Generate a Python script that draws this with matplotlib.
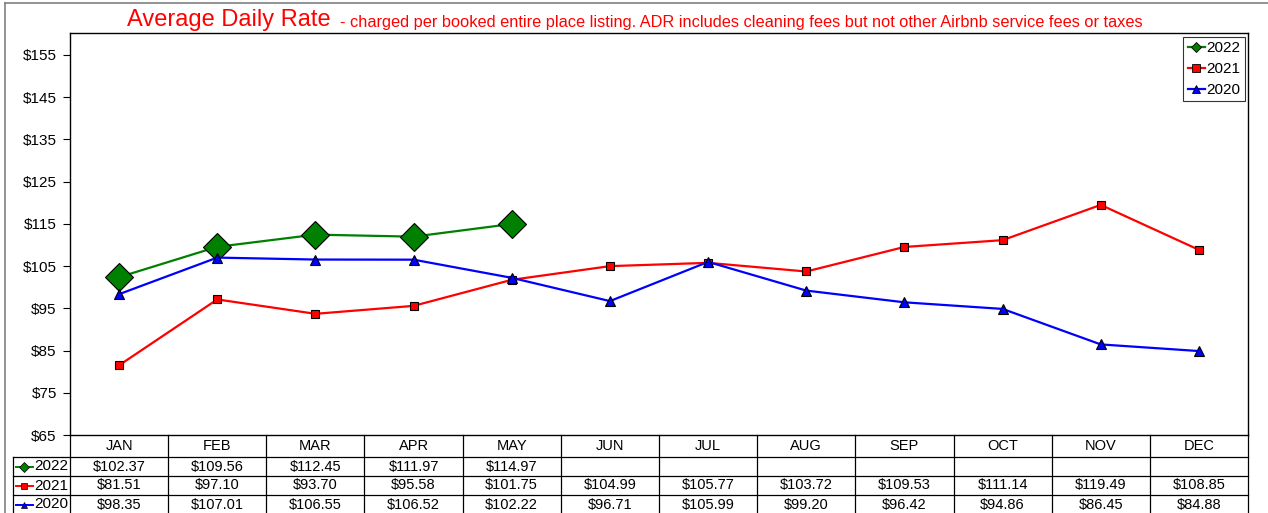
import matplotlib
matplotlib.use("Agg")
import matplotlib.pyplot as plt
from matplotlib.lines import Line2D
import numpy as np

plt.rcParams['font.family'] = ['Liberation Sans', 'DejaVu Sans']

months = ["JAN", "FEB", "MAR", "APR", "MAY", "JUN", "JUL", "AUG", "SEP", "OCT", "NOV", "DEC"]
adr_2022 = [102.37, 109.56, 112.45, 111.97, 114.97]
adr_2021 = [81.51, 97.10, 93.70, 95.58, 101.75, 104.99, 105.77, 103.72, 109.53, 111.14, 119.49, 108.85]
adr_2020 = [98.35, 107.01, 106.55, 106.52, 102.22, 96.71, 105.99, 99.20, 96.42, 94.86, 86.45, 84.88]
y_ticks = [65, 75, 85, 95, 105, 115, 125, 135, 145, 155]

W, H = 1268, 513
fig = plt.figure(figsize=(W / 100, H / 100), dpi=100)

def px(x0, y0, x1, y1):
    return [x0 / W, 1 - y1 / H, (x1 - x0) / W, (y1 - y0) / H]

# outer border
fig.add_artist(Line2D([5 / W, 1.0], [1 - 3 / H, 1 - 3 / H], color="#808080", lw=1.2))
fig.add_artist(Line2D([5 / W, 5 / W], [0, 1 - 3 / H], color="#808080", lw=1.2))

ax = fig.add_axes(px(70, 33, 1248, 435))
x = np.arange(len(months))
series = [
    ("2022", adr_2022, "#008000", "D", 14.5),
    ("2021", adr_2021, "#FF0000", "s", 5.5),
    ("2020", adr_2020, "#0000FF", "^", 6.5),
]
for label, vals, col, mk, ms in series:
    ax.plot(x[:len(vals)], vals, color=col, lw=1.6, marker=mk, ms=ms,
            mfc=col, mec="black", mew=0.8, label=label)

ax.set_xlim(-0.5, 11.5)
ax.set_ylim(65, 160.2)
ax.set_yticks(y_ticks)
ax.set_yticklabels([f"${v}" for v in y_ticks], fontsize=11)
ax.set_xticks([])
ax.tick_params(axis="y", direction="out", length=5, width=0.8, pad=4.5)
for s in ax.spines.values():
    s.set_linewidth(1.0)
    s.set_color("black")

# legend with small markers
leg_markers = [("#008000", "D"), ("#FF0000", "s"), ("#0000FF", "^")]
handles = [Line2D([0], [0], color=c, lw=1.6, marker=m, ms=5.5, mfc=c, mec="black", mew=0.6)
           for c, m in leg_markers]
leg = ax.legend(handles, [s[0] for s in series], loc="upper right", bbox_to_anchor=(0.9985, 0.995),
                fontsize=11, frameon=True, fancybox=False, handlelength=1.1, handletextpad=0.1,
                borderpad=0.3, labelspacing=0.45, borderaxespad=0.1)
leg.get_frame().set_edgecolor("black")
leg.get_frame().set_linewidth(0.8)

# title
fig.text(127 / W, 1 - 20 / H, "Average Daily Rate", color="red", fontsize=17, va="center", ha="left")
fig.text(340 / W, 1 - 22 / H,
         "- charged per booked entire place listing. ADR includes cleaning fees but not other Airbnb service fees or taxes",
         color="red", fontsize=11.8, va="center", ha="left")

# data table
tax = fig.add_axes(px(70, 435, 1248, 514))
tax.set_xlim(-0.5, 11.5)
tax.set_ylim(79, 0)
tax.axis("off")
rows = [0, 22, 41, 60, 79]
lab_left = -0.5 - 57 / (1178 / 12)
kw = dict(color="black", lw=0.9, clip_on=False)
for yb in rows[1:]:
    tax.plot([lab_left, 11.5], [yb, yb], **kw)
tax.plot([lab_left, lab_left], [22, 79], **kw)
for k in range(13):
    tax.plot([-0.5 + k, -0.5 + k], [0, 79], **kw)
for i, m in enumerate(months):
    tax.text(i, 11, m, ha="center", va="center", fontsize=10.5)
for r, (label, vals, col, mk, _) in enumerate(series):
    yc = (rows[r + 1] + rows[r + 2]) / 2
    for i, v in enumerate(vals):
        tax.text(i, yc, f"${v:.2f}", ha="center", va="center", fontsize=10.5)
    tax.plot([lab_left + 0.03, lab_left + 0.2], [yc, yc], color=col, lw=1.4, clip_on=False)
    tax.plot([lab_left + 0.115], [yc], marker=mk, ms=5, color=col, mec="black", mew=0.5, clip_on=False)
    tax.text(-0.52, yc, label, ha="right", va="center", fontsize=11)

fig.savefig("out.png", dpi=100)
